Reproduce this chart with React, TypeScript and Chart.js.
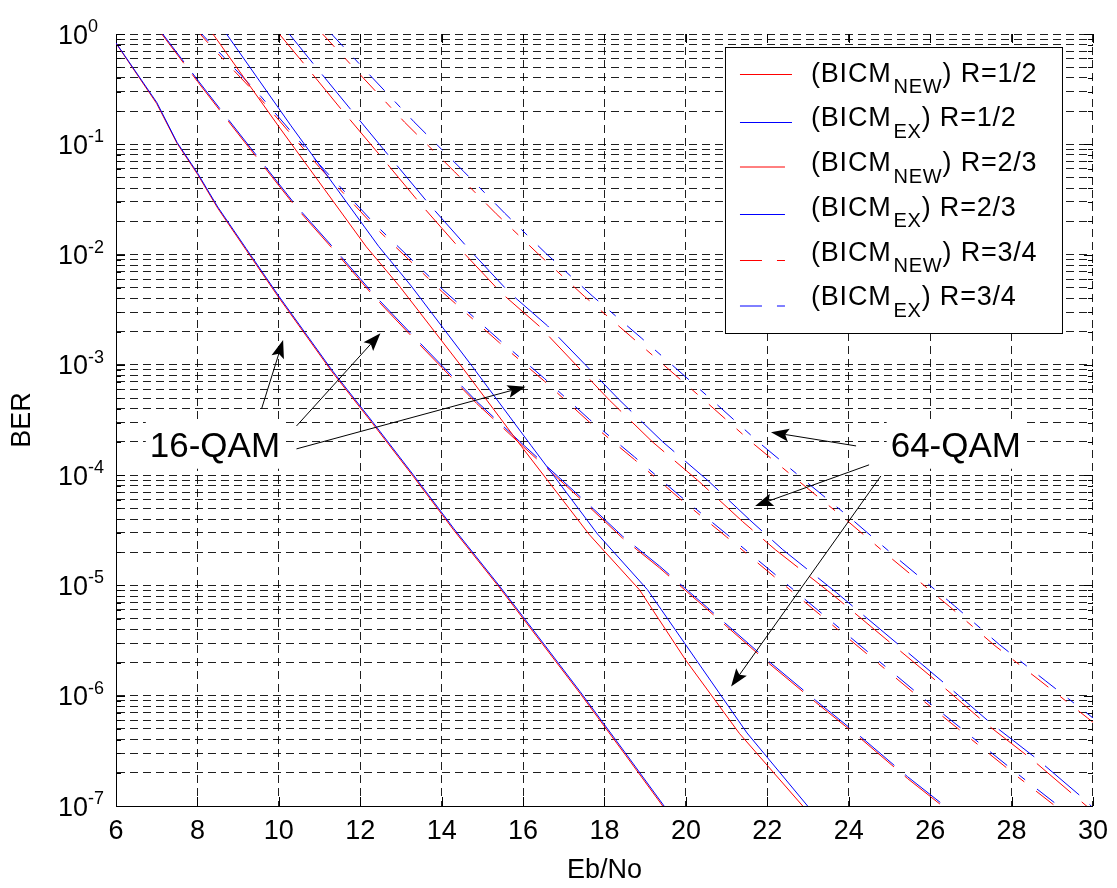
import React, { useEffect, useRef } from 'react';
import { Chart, registerables } from 'chart.js';

Chart.register(...registerables);

const FONT = '"Liberation Sans", Arial, Helvetica, sans-serif';

// Axis ticks
const ebnoTicks = [6, 8, 10, 12, 14, 16, 18, 20, 22, 24, 26, 28, 30];
const berDecadeExps = [0, -1, -2, -3, -4, -5, -6, -7];

// 16-QAM, R=1/2
const q16r12Eb = [6.0, 7.0, 7.5, 8.0, 8.5, 9.2, 10.0, 11.3, 12.3, 13.3, 14.3, 15.4, 16.0, 17.4, 18.5, 19.43, 19.7];
const q16r12NewBer = [0.824, 0.234, 0.102, 0.0537, 0.0263, 0.01096, 4.07e-3, 8.71e-4, 2.95e-4, 9.77e-5, 3.16e-5, 9.77e-6, 5.01e-6, 1.05e-6, 2.95e-7, 1.0e-7, 7.3e-8];
const q16r12ExBer = [0.83, 0.24, 0.104, 0.055, 0.027, 0.0113, 4.2e-3, 9.0e-4, 3.05e-4, 1.01e-4, 3.27e-5, 1.01e-5, 5.2e-6, 1.09e-6, 3.07e-7, 1.04e-7, 7.6e-8];

// 16-QAM, R=2/3
const q16r23Eb = [7.0, 8.0, 8.63, 9.5, 10.44, 11.4, 12.36, 13.39, 14.86, 15.91, 17.63, 18.44, 19.35, 20.5, 22.05, 23.19, 24.3, 25.44, 26.3, 26.6];
const q16r23NewBer = [1.15, 0.372, 0.186, 0.0724, 0.0263, 0.01047, 4.07e-3, 1.62e-3, 4.47e-4, 1.95e-4, 5.13e-5, 2.69e-5, 1.445e-5, 6.17e-6, 1.95e-6, 8.71e-7, 4.07e-7, 1.78e-7, 1.0e-7, 8.1e-8];
const q16r23ExBer = [1.18, 0.385, 0.193, 0.0752, 0.0273, 0.0109, 4.24e-3, 1.69e-3, 4.66e-4, 2.03e-4, 5.34e-5, 2.8e-5, 1.5e-5, 6.42e-6, 2.03e-6, 9.06e-7, 4.23e-7, 1.85e-7, 1.04e-7, 8.4e-8];

// 16-QAM, R=3/4
const q16r34Eb = [7.9, 8.43, 9.51, 11.0, 12.36, 14.02, 15.42, 16.53, 17.63, 18.74, 19.84, 21.0, 22.46, 23.6, 24.7, 25.81, 26.96, 28.1, 29.07, 29.4];
const q16r34NewBer = [1.17, 0.708, 0.269, 0.0617, 0.01778, 4.57e-3, 1.585e-3, 7.08e-4, 3.02e-4, 1.38e-4, 6.17e-5, 2.75e-5, 9.77e-6, 4.37e-6, 2.0e-6, 9.12e-7, 4.17e-7, 1.905e-7, 1.0e-7, 7.9e-8];
const q16r34ExBer = [1.2, 0.75, 0.285, 0.0654, 0.01885, 4.84e-3, 1.68e-3, 7.5e-4, 3.2e-4, 1.46e-4, 6.54e-5, 2.92e-5, 1.04e-5, 4.63e-6, 2.12e-6, 9.67e-7, 4.42e-7, 2.02e-7, 1.06e-7, 8.4e-8];

// 64-QAM, R=1/2
const q64r12NewEb = [8.25, 10.0, 12.15, 12.97, 14.5, 15.96, 17.63, 18.86, 20.0, 21.31, 22.87, 23.1];
const q64r12NewBer = [1.17, 0.1445, 0.01175, 5.13e-3, 9.55e-4, 1.82e-4, 2.88e-5, 9.12e-6, 2.09e-6, 4.57e-7, 1.0e-7, 7.9e-8];
const q64r12ExEb = [8.6, 10.3, 12.45, 13.25, 14.75, 16.2, 17.83, 19.05, 20.25, 21.5, 22.99, 23.2];
const q64r12ExBer = [1.15, 0.147, 0.0119, 5.2e-3, 9.7e-4, 1.85e-4, 2.92e-5, 9.2e-6, 2.12e-6, 4.6e-7, 1.0e-7, 7.9e-8];

// 64-QAM, R=2/3
const q64r23NewEb = [9.9, 10.64, 11.55, 12.53, 13.5, 14.48, 15.47, 16.4, 17.3, 18.12, 19.18, 20.33, 21.39, 22.21, 23.56, 25.12, 26.26, 27.36, 28.51, 29.62, 30.0];
const q64r23NewBer = [1.12, 0.525, 0.204, 0.0759, 0.0282, 0.01096, 4.47e-3, 2.24e-3, 1.0e-3, 4.79e-4, 2.0e-4, 8.71e-5, 3.8e-5, 2.09e-5, 8.51e-6, 2.82e-6, 1.26e-6, 5.62e-7, 2.63e-7, 1.175e-7, 8.9e-8];
const q64r23ExEb = [10.15, 10.86, 11.77, 12.73, 13.7, 14.68, 15.67, 16.6, 17.52, 18.36, 19.42, 20.56, 21.6, 22.38, 23.7, 25.25, 26.38, 27.48, 28.63, 29.74, 30.1];
const q64r23ExBer = [1.12, 0.53, 0.206, 0.0765, 0.0284, 0.0111, 4.5e-3, 2.26e-3, 1.01e-3, 4.83e-4, 2.02e-4, 8.8e-5, 3.83e-5, 2.11e-5, 8.6e-6, 2.85e-6, 1.27e-6, 5.68e-7, 2.66e-7, 1.19e-7, 8.9e-8];

// 64-QAM, R=3/4
const q64r34NewEb = [11.0, 12.0, 13.09, 14.32, 15.34, 16.36, 17.51, 18.7, 19.39, 20.54, 21.64, 22.79, 23.89, 25.0, 26.47, 27.57, 28.72, 29.86, 30.0];
const q64r34NewBer = [1.07, 0.427, 0.1585, 0.0562, 0.02344, 0.01023, 4.17e-3, 1.74e-3, 1.047e-3, 4.47e-4, 1.95e-4, 8.71e-5, 4.07e-5, 1.82e-5, 6.46e-6, 2.88e-6, 1.35e-6, 6.31e-7, 5.75e-7];
const q64r34ExEb = [11.22, 12.22, 13.32, 14.54, 15.55, 16.55, 17.7, 18.9, 19.58, 20.72, 21.8, 22.94, 24.03, 25.13, 26.6, 27.7, 28.84, 29.98, 30.12];
const q64r34ExBer = [1.07, 0.43, 0.16, 0.0568, 0.0237, 0.01035, 4.22e-3, 1.76e-3, 1.06e-3, 4.52e-4, 1.97e-4, 8.8e-5, 4.11e-5, 1.84e-5, 6.52e-6, 2.91e-6, 1.36e-6, 6.37e-7, 6.0e-7];

// Text annotations: left edge / vertical centre in data units
const qam16Label = { text: '16-QAM', eb: 6.83, ber: 1.81e-4 };
const qam64Label = { text: '64-QAM', eb: 25.03, ber: 1.81e-4 };

// Arrows: [Eb/No, BER] tail -> head
const qam16Arrows = [
  { from: [9.575, 3.98e-4], to: [10.105, 1.68e-3] },
  { from: [10.434, 2.79e-4], to: [12.496, 1.93e-3] },
  { from: [10.434, 1.73e-4], to: [16.06, 6.34e-4] },
];
const qam64Arrows = [
  { from: [24.18, 1.84e-4], to: [22.09, 2.45e-4] },
  { from: [24.5, 1.24e-4], to: [21.7, 5.26e-5] },
  { from: [24.79, 9.84e-5], to: [21.11, 1.21e-6] },
];

const RED = 'rgb(255,0,0)';
const BLUE = 'rgb(0,0,255)';
const SOLID: number[] = [];
const DASHED = [45, 14];
const DASH_DOT = [22, 15, 8, 15];
const GRID_DASH = [8, 5];
const GRID_COLOR = 'rgba(0,0,0,0.88)';

// legend rows: sample line offset from the box top
const legendEntries = [
  { pre: '(BICM', sub: 'NEW', post: ') R=1/2', color: RED, dash: SOLID, lineY: 27.5 },
  { pre: '(BICM', sub: 'EX', post: ') R=1/2', color: BLUE, dash: SOLID, lineY: 75.5 },
  { pre: '(BICM', sub: 'NEW', post: ') R=2/3', color: RED, dash: DASHED, lineY: 120 },
  { pre: '(BICM', sub: 'EX', post: ') R=2/3', color: BLUE, dash: DASHED, lineY: 167.5 },
  { pre: '(BICM', sub: 'NEW', post: ') R=3/4', color: RED, dash: DASH_DOT, lineY: 213.5 },
  { pre: '(BICM', sub: 'EX', post: ') R=3/4', color: BLUE, dash: DASH_DOT, lineY: 259 },
];

const curves = [
  { eb: q16r12Eb, ber: q16r12NewBer, color: RED, dash: SOLID },
  { eb: q16r12Eb, ber: q16r12ExBer, color: BLUE, dash: SOLID },
  { eb: q16r23Eb, ber: q16r23NewBer, color: RED, dash: DASHED },
  { eb: q16r23Eb, ber: q16r23ExBer, color: BLUE, dash: DASHED },
  { eb: q16r34Eb, ber: q16r34NewBer, color: RED, dash: DASH_DOT },
  { eb: q16r34Eb, ber: q16r34ExBer, color: BLUE, dash: DASH_DOT },
  { eb: q64r12NewEb, ber: q64r12NewBer, color: RED, dash: SOLID },
  { eb: q64r12ExEb, ber: q64r12ExBer, color: BLUE, dash: SOLID },
  { eb: q64r23NewEb, ber: q64r23NewBer, color: RED, dash: DASHED },
  { eb: q64r23ExEb, ber: q64r23ExBer, color: BLUE, dash: DASHED },
  { eb: q64r34NewEb, ber: q64r34NewBer, color: RED, dash: DASH_DOT },
  { eb: q64r34ExEb, ber: q64r34ExBer, color: BLUE, dash: DASH_DOT },
];

// grid positions on the log axis: 1..9 x 10^e
const berGrid: number[] = [];
for (let e = -7; e < 0; e++) {
  for (let m = 1; m <= 9; m++) berGrid.push(m * Math.pow(10, e));
}
berGrid.push(1);

function drawArrow(ctx: CanvasRenderingContext2D, x1: number, y1: number, x2: number, y2: number) {
  const ang = Math.atan2(y2 - y1, x2 - x1);
  const len = 18;
  const half = 6.5;
  const bx = x2 - len * Math.cos(ang);
  const by = y2 - len * Math.sin(ang);
  const nx = x2 - len * 0.8 * Math.cos(ang);
  const ny = y2 - len * 0.8 * Math.sin(ang);
  ctx.beginPath();
  ctx.moveTo(x1, y1);
  ctx.lineTo(nx, ny);
  ctx.stroke();
  ctx.beginPath();
  ctx.moveTo(x2, y2);
  ctx.lineTo(bx + half * Math.sin(ang), by - half * Math.cos(ang));
  ctx.lineTo(nx, ny);
  ctx.lineTo(bx - half * Math.sin(ang), by + half * Math.cos(ang));
  ctx.closePath();
  ctx.fill();
}

// horizontal legend sample, pattern applied segment by segment
function drawSample(ctx: CanvasRenderingContext2D, x0: number, x1: number, y: number, pattern: number[]) {
  ctx.beginPath();
  if (!pattern.length) {
    ctx.moveTo(x0, y);
    ctx.lineTo(x1, y);
  } else {
    let x = x0;
    let i = 0;
    while (x < x1) {
      const xe = Math.min(x + pattern[i % pattern.length], x1);
      if (i % 2 === 0) {
        ctx.moveTo(x, y);
        ctx.lineTo(xe, y);
      }
      x = xe;
      i++;
    }
  }
  ctx.stroke();
}

const overlay = {
  id: 'berOverlay',
  afterDatasetsDraw(chart: any) {
    const { ctx, scales } = chart;
    const xs = scales.x;
    const ys = scales.y;
    ctx.save();
    ctx.setLineDash([]);
    // annotation labels on white boxes
    ctx.font = `35px ${FONT}`;
    ctx.textBaseline = 'middle';
    ctx.textAlign = 'left';
    [qam16Label, qam64Label].forEach((lab) => {
      const px = xs.getPixelForValue(lab.eb);
      const py = ys.getPixelForValue(lab.ber);
      const w = ctx.measureText(lab.text).width;
      ctx.fillStyle = '#fff';
      ctx.fillRect(px - 4, py - 25, w + 8, 47);
      ctx.fillStyle = '#000';
      ctx.fillText(lab.text, px, py + 1);
    });
    ctx.strokeStyle = '#000';
    ctx.fillStyle = '#000';
    ctx.lineWidth = 1;
    [...qam16Arrows, ...qam64Arrows].forEach((a) => {
      drawArrow(
        ctx,
        xs.getPixelForValue(a.from[0]), ys.getPixelForValue(a.from[1]),
        xs.getPixelForValue(a.to[0]), ys.getPixelForValue(a.to[1])
      );
    });
    ctx.restore();
  },
  afterDraw(chart: any) {
    const { ctx, chartArea, scales } = chart;
    const xs = scales.x;
    const ys = scales.y;
    const { left, right, top, bottom } = chartArea;
    ctx.save();
    ctx.setLineDash([]);
    ctx.strokeStyle = '#000';
    ctx.lineWidth = 1;
    // inward tick marks
    ctx.beginPath();
    ebnoTicks.forEach((v) => {
      const px = Math.round(xs.getPixelForValue(v)) + 0.5;
      ctx.moveTo(px, bottom);
      ctx.lineTo(px, bottom - 9);
      ctx.moveTo(px, top);
      ctx.lineTo(px, top + 9);
    });
    berGrid.forEach((v) => {
      const py = Math.round(ys.getPixelForValue(v)) + 0.5;
      const major = berDecadeExps.some((e) => Math.abs(Math.log10(v) - e) < 1e-6);
      const l = major ? 9 : 5;
      ctx.moveTo(left, py);
      ctx.lineTo(left + l, py);
      ctx.moveTo(right, py);
      ctx.lineTo(right - l, py);
    });
    ctx.stroke();

    // decade labels 10^n
    ctx.fillStyle = '#000';
    ctx.textBaseline = 'alphabetic';
    berDecadeExps.forEach((e) => {
      const py = ys.getPixelForValue(Math.pow(10, e));
      ctx.font = `27px ${FONT}`;
      ctx.textAlign = 'right';
      ctx.fillText('10', left - 28, py + 9.5);
      ctx.font = `18px ${FONT}`;
      ctx.textAlign = 'left';
      ctx.fillText(String(e), left - 28, py - 2);
    });

    // legend
    const bx = right - 30;
    const lx0 = bx - 338;
    const ly0 = top + 13;
    ctx.fillStyle = '#fff';
    ctx.fillRect(lx0, ly0, 338, 286);
    ctx.strokeStyle = '#000';
    ctx.strokeRect(lx0 + 0.5, ly0 + 0.5, 337, 286);
    const c2d = ctx as any;
    legendEntries.forEach((en, i) => {
      ctx.strokeStyle = en.color;
      ctx.lineWidth = 1;
      drawSample(ctx, lx0 + 15, lx0 + 67, ly0 + en.lineY, en.dash);
      const base = ly0 + 34.7 + 44.7 * i;
      let tx = lx0 + 86;
      ctx.fillStyle = '#000';
      ctx.textAlign = 'left';
      c2d.letterSpacing = '0.8px';
      ctx.font = `27px ${FONT}`;
      ctx.fillText(en.pre, tx, base);
      tx += ctx.measureText(en.pre).width + 2;
      ctx.font = `20px ${FONT}`;
      ctx.fillText(en.sub, tx, base + 11.6);
      tx += ctx.measureText(en.sub).width;
      ctx.font = `27px ${FONT}`;
      ctx.fillText(en.post, tx, base);
      c2d.letterSpacing = '0px';
    });
    ctx.restore();
  },
};

export default function App() {
  const ref = useRef<HTMLCanvasElement>(null);

  useEffect(() => {
    const canvas = ref.current;
    if (!canvas) return;
    const datasets = curves.map((c, i) => ({
      data: c.eb.map((x, k) => ({ x, y: c.ber[k] })),
      borderColor: c.color,
      backgroundColor: c.color,
      borderWidth: 1,
      borderDash: c.dash,
      showLine: true,
      pointRadius: 0,
      fill: false,
      tension: 0,
      order: 100 - i,
    }));
    const gridOpts = { color: GRID_COLOR, lineWidth: 1, drawTicks: false };
    const borderOpts = { display: true, color: '#000', width: 1, dash: GRID_DASH };
    const chart = new Chart(canvas, {
      type: 'scatter',
      data: { datasets },
      options: {
        animation: false,
        responsive: false,
        devicePixelRatio: 1,
        layout: { padding: { top: 34, right: 23, bottom: 0, left: 0 } },
        plugins: { legend: { display: false }, tooltip: { enabled: false } },
        scales: {
          x: {
            type: 'linear',
            min: 6,
            max: 30,
            afterBuildTicks: (s: any) => {
              s.ticks = ebnoTicks.map((v) => ({ value: v }));
            },
            ticks: { color: '#000', font: { family: FONT, size: 27 }, padding: 9, maxRotation: 0, autoSkip: false },
            grid: gridOpts,
            border: borderOpts,
            title: { display: true, text: 'Eb/No', color: '#000', font: { family: FONT, size: 27 }, padding: { top: 0, bottom: 1 } },
            afterFit: (s: any) => {
              s.height = 82;
            },
          },
          y: {
            type: 'logarithmic',
            min: 1e-7,
            max: 1,
            afterBuildTicks: (s: any) => {
              s.ticks = berGrid.map((v) => ({ value: v }));
            },
            ticks: { display: false },
            grid: gridOpts,
            border: borderOpts,
            title: { display: true, text: 'BER', color: '#000', font: { family: FONT, size: 27 }, padding: { top: 6, bottom: 0 } },
            afterFit: (s: any) => {
              s.width = 116;
            },
          },
        },
      } as any,
      plugins: [overlay],
    });
    return () => chart.destroy();
  }, []);

  return (
    <div style={{ position: 'fixed', left: 0, top: 0, width: 1117, height: 888, background: '#fff' }}>
      <canvas ref={ref} width={1117} height={888} style={{ display: 'block', width: 1117, height: 888 }} />
    </div>
  );
}
